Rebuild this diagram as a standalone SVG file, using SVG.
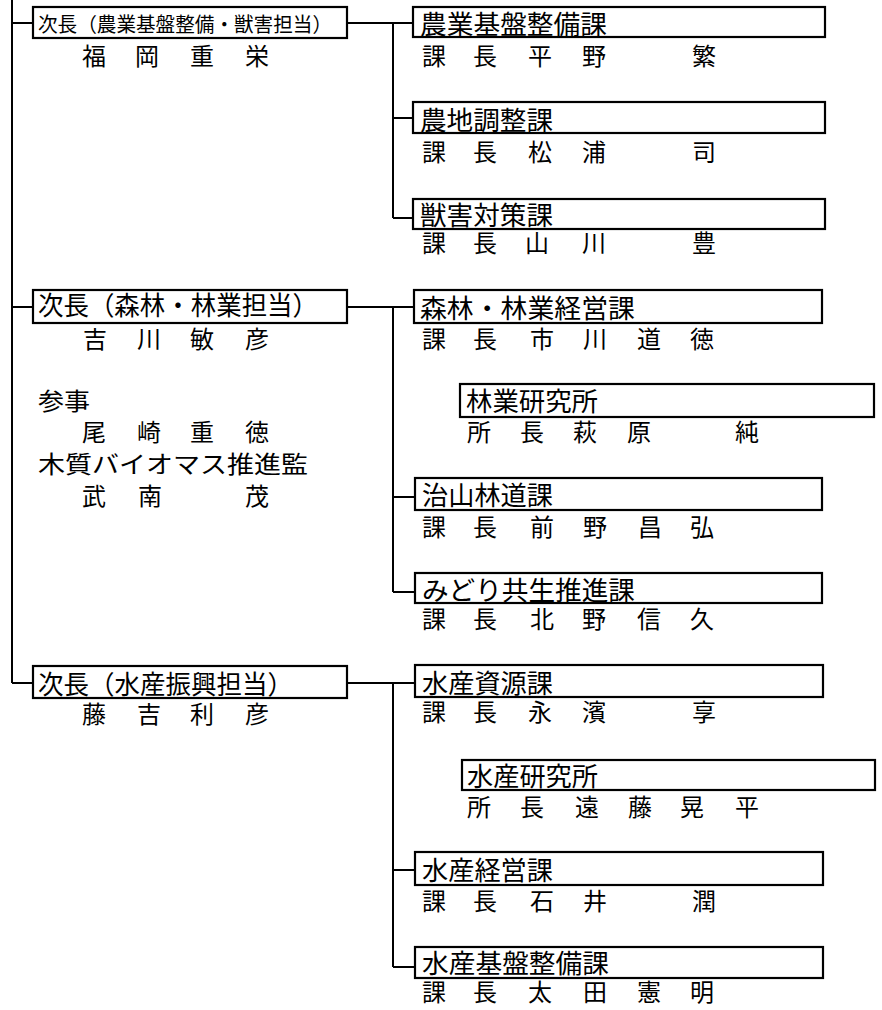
<svg xmlns="http://www.w3.org/2000/svg" width="882" height="1010" viewBox="0 0 882 1010">
<style>
.box{fill:#fff;stroke:#000;stroke-width:2.2}
.ln{stroke:#000;stroke-width:2;fill:none}
text{font-family:"Noto Sans CJK JP","Noto Sans CJK SC",sans-serif;fill:#000}
.t{font-size:26px}
.s{font-size:20px}
.n{font-size:24px}
</style>
<rect width="882" height="1010" fill="#fff"/>
<g id="connectors">
<path class="ln" d="M12 0V683M12 23H33M12 307H33M12 683H33"/>
<path class="ln" d="M347 23H413M393 23V218M393 118H413M393 218H413"/>
<path class="ln" d="M347 307H414M393 307V592M393 497H415M393 592H415"/>
<path class="ln" d="M347 683H415M393 683V967M393 870H415M393 967H415"/>
</g>
<g id="jicho1">
<rect class="box" x="33" y="7" width="314" height="31"/>
<text class="s" x="38" y="32" textLength="294" lengthAdjust="spacingAndGlyphs">次長（農業基盤整備・獣害担当）</text>
<text class="n" x="82 135 190 245" y="65">福岡重栄</text>
</g>
<g id="jicho2">
<rect class="box" x="33" y="290" width="314" height="33"/>
<text class="t" x="38" y="315" textLength="280" lengthAdjust="spacingAndGlyphs">次長（森林・林業担当）</text>
<text class="n" x="83 137 190 245" y="348">吉川敏彦</text>
</g>
<g id="sanji">
<text class="n" x="38" y="410" textLength="52" lengthAdjust="spacingAndGlyphs">参事</text>
<text class="n" x="82 137 190 245" y="441">尾崎重徳</text>
</g>
<g id="biomass">
<text class="n" x="38" y="473" textLength="270" lengthAdjust="spacingAndGlyphs">木質バイオマス推進監</text>
<text class="n" x="82 138 245" y="505">武南茂</text>
</g>
<g id="jicho3">
<rect class="box" x="33" y="666" width="314" height="32"/>
<text class="t" x="38" y="694" textLength="255" lengthAdjust="spacingAndGlyphs">次長（水産振興担当）</text>
<text class="n" x="82 137 190 245" y="723">藤吉利彦</text>
</g>
<g id="nogyokiban">
<rect class="box" x="413" y="7" width="412" height="30"/>
<text class="t" x="420" y="34" textLength="187" lengthAdjust="spacingAndGlyphs">農業基盤整備課</text>
<text class="n" x="422 473 528 582 692" y="65">課長平野繁</text>
</g>
<g id="nochi">
<rect class="box" x="413" y="102" width="412" height="31"/>
<text class="t" x="420" y="130" textLength="133" lengthAdjust="spacingAndGlyphs">農地調整課</text>
<text class="n" x="422 473 528 582 692" y="161">課長松浦司</text>
</g>
<g id="jugai">
<rect class="box" x="413" y="199" width="412" height="30"/>
<text class="t" x="420" y="225" textLength="133" lengthAdjust="spacingAndGlyphs">獣害対策課</text>
<text class="n" x="422 473 525 582 692" y="252">課長山川豊</text>
</g>
<g id="shinrin">
<rect class="box" x="414" y="290" width="408" height="33"/>
<text class="t" x="420" y="318" textLength="215" lengthAdjust="spacingAndGlyphs">森林・林業経営課</text>
<text class="n" x="422 473 530 583 637 690" y="348">課長市川道徳</text>
</g>
<g id="ringyoken">
<rect class="box" x="460" y="384" width="414" height="33"/>
<text class="t" x="466" y="411" textLength="132" lengthAdjust="spacingAndGlyphs">林業研究所</text>
<text class="n" x="467 520 573 627 735" y="441">所長萩原純</text>
</g>
<g id="chisan">
<rect class="box" x="415" y="478" width="407" height="32"/>
<text class="t" x="422" y="505" textLength="131" lengthAdjust="spacingAndGlyphs">治山林道課</text>
<text class="n" x="422 473 530 583 638 690" y="536">課長前野昌弘</text>
</g>
<g id="midori">
<rect class="box" x="415" y="573" width="407" height="30"/>
<text class="t" x="422" y="600" textLength="213" lengthAdjust="spacingAndGlyphs">みどり共生推進課</text>
<text class="n" x="422 473 530 582 637 690" y="628">課長北野信久</text>
</g>
<g id="suisanshigen">
<rect class="box" x="415" y="665" width="408" height="32"/>
<text class="t" x="422" y="693" textLength="131" lengthAdjust="spacingAndGlyphs">水産資源課</text>
<text class="n" x="422 473 528 582 692" y="721">課長永濱享</text>
</g>
<g id="suisanken">
<rect class="box" x="462" y="760" width="413" height="30"/>
<text class="t" x="467" y="786" textLength="131" lengthAdjust="spacingAndGlyphs">水産研究所</text>
<text class="n" x="467 520 575 628 680 735" y="816">所長遠藤晃平</text>
</g>
<g id="suisankeiei">
<rect class="box" x="415" y="852" width="408" height="33"/>
<text class="t" x="422" y="880" textLength="131" lengthAdjust="spacingAndGlyphs">水産経営課</text>
<text class="n" x="422 473 530 583 692" y="910">課長石井潤</text>
</g>
<g id="suisankiban">
<rect class="box" x="415" y="947" width="408" height="31"/>
<text class="t" x="422" y="973" textLength="187" lengthAdjust="spacingAndGlyphs">水産基盤整備課</text>
<text class="n" x="422 473 528 583 637 690" y="1001">課長太田憲明</text>
</g>
</svg>
